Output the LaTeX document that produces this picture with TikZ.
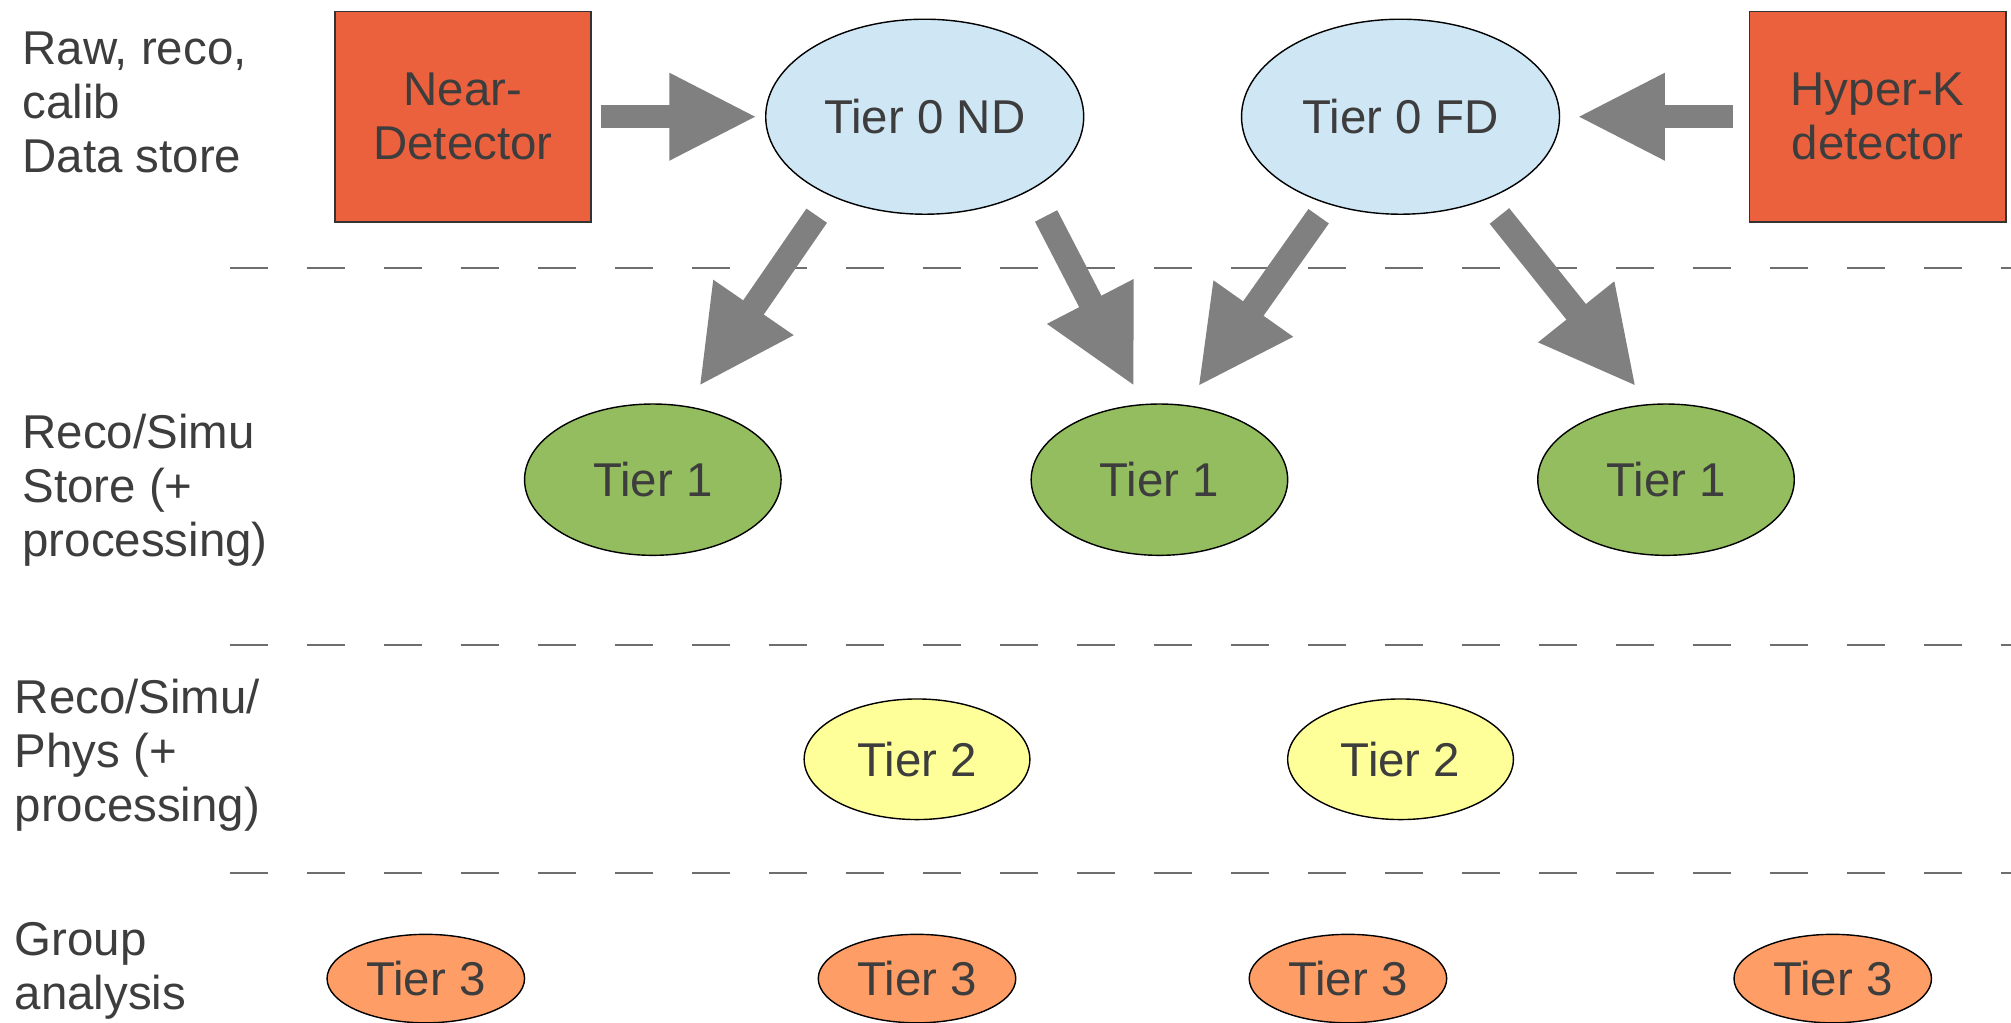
\documentclass[tikz,border=0pt]{standalone}
\usepackage{fontspec}
\setmainfont{Liberation Sans}
\usetikzlibrary{shapes}
\usetikzlibrary{arrows.meta}
\usetikzlibrary{positioning}
\definecolor{textgray}{HTML}{3D3D3D}
\definecolor{boxred}{HTML}{EB613D}
\definecolor{tierblue}{HTML}{CFE7F5}
\definecolor{tiergreen}{HTML}{93BD5E}
\definecolor{tieryellow}{HTML}{FFFF99}
\definecolor{tierorange}{HTML}{FF9D66}
\definecolor{arrowgray}{HTML}{808080}
\definecolor{sepgray}{HTML}{6E6E6E}
\tikzstyle{detector}=[rectangle,draw=black!80,line width=0.5pt,fill=boxred,minimum width=25.65mm,minimum height=21.03mm,inner sep=0pt,align=center]
\tikzstyle{tier}=[ellipse,draw=black,line width=0.4pt,inner sep=0pt]
\tikzstyle{tierzero}=[tier,fill=tierblue,minimum width=31.8mm,minimum height=19.5mm]
\tikzstyle{tierone}=[tier,fill=tiergreen,minimum width=25.65mm,minimum height=15.13mm]
\tikzstyle{tiertwo}=[tier,fill=tieryellow,minimum width=22.57mm,minimum height=12.06mm]
\tikzstyle{tierthree}=[tier,fill=tierorange,minimum width=19.75mm,minimum height=8.85mm]
\tikzstyle{bigarrow}=[draw=arrowgray,line width=2.3mm,-{Triangle[length=8.8mm,width=8.1mm]}]
\tikzstyle{slantarrow}=[draw=arrowgray,line width=2.5mm,-{Triangle[length=9.6mm,width=9.0mm]}]
\tikzstyle{separator}=[draw=sepgray,line width=0.6pt,dash pattern=on 3.85mm off 3.85mm]
\tikzstyle{layerlabel}=[anchor=west,align=left,inner sep=0pt]

\begin{document}
\begin{tikzpicture}[x=0.12825mm, y=-0.12825mm, text=textgray, font=\fontsize{13.5}{15.4}\selectfont]
    \useasboundingbox (0,0) rectangle (1568,797);
    % Layer separators
    \foreach \y in {209, 503, 681}
        \path[separator] (179,\y) -- (1568,\y);

    % Layer labels on the left
    \node[layerlabel] (rawlabel) at (17,80) {Raw, reco,\\calib\\Data store};
    \node[layerlabel] (recolabel) at (17,382) {Reco/Simu\\Store (+\\processing)};
    \node[layerlabel] (physlabel) at (11,589) {Reco/Simu/\\Phys (+\\processing)};
    \node[layerlabel] (grouplabel) at (11,757) {Group\\analysis};

    % Detectors and the two Tier 0 sites
    \node[detector] (near) at (361,91) {Near-\\Detector};
    \node[detector] (hyperk) at (1464,91) {Hyper-K\\detector};
    \node[tierzero] (t0nd) at (721,91) {Tier 0 ND};
    \node[tierzero] (t0fd) at (1092,91) {Tier 0 FD};

    % Lower tiers
    \foreach \pos/\name in {{(509,374)/t1a}, {(904,374)/t1b}, {(1299,374)/t1c}}
        \node[tierone] (\name) at \pos {Tier 1};
    \foreach \pos/\name in {{(715,592)/t2a}, {(1092,592)/t2b}}
        \node[tiertwo] (\name) at \pos {Tier 2};
    \foreach \pos/\name in {{(332,763)/t3a}, {(715,763)/t3b}, {(1051,763)/t3c}, {(1429,763)/t3d}}
        \node[tierthree] (\name) at \pos {Tier 3};

    % Data flow
    \path[bigarrow, shorten <=0.9mm, shorten >=0.77mm] (near) -- (t0nd);
    \path[bigarrow, shorten <=1.54mm, shorten >=1.67mm] (hyperk) -- (t0fd);
    \foreach \source/\dest/\pre/\post in {t0nd.220/t1a.66/2.4mm/2.35mm, t0nd.326/t1b.102/3.0mm/1.94mm, t0fd.230/t1b.71/1.5mm/2.2mm, t0fd.316/t1c.102/2.1mm/2.2mm}
        \path[slantarrow, shorten <=\pre, shorten >=\post] (\source) -- (\dest);
\end{tikzpicture}
\end{document}
